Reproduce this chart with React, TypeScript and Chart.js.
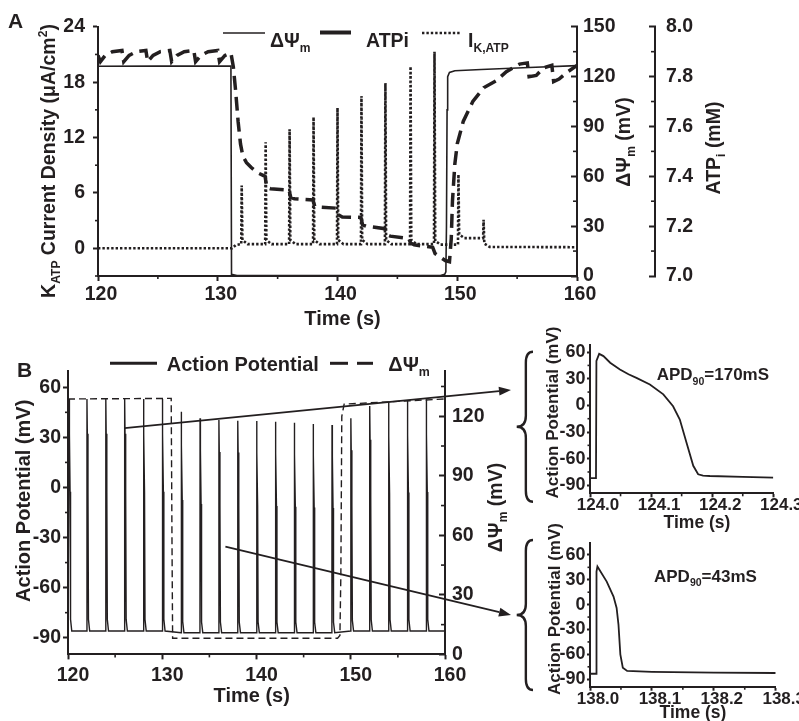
import React, { useEffect, useRef } from 'react';
import { Chart, registerables } from 'chart.js';

Chart.register(...registerables);

const FONT = '"Liberation Sans", Arial, Helvetica, sans-serif';
const INK = '#231f20';

// ================= Panel A =================
const aTimeMajor = [120, 130, 140, 150, 160];
const aTimeMinor = [125, 135, 145, 155];
const aKatpMajor = [0, 6, 12, 18, 24];
const aKatpMinor = [-3, 3, 9, 15, 21];
const aPsiMajor = [0, 30, 60, 90, 120, 150];
const aPsiMinor = [15, 45, 75, 105, 135];
const aAtpMajor = [7.0, 7.2, 7.4, 7.6, 7.8, 8.0];
const aAtpMinor = [7.1, 7.3, 7.5, 7.7, 7.9];

// ΔΨm (mV), right axis
const aPsiTime = [120, 125, 131.1, 131.15, 131.6, 140, 148.6, 148.95, 149.05, 149.1, 149.15, 149.2, 149.35, 149.8, 152, 156, 160];
const aPsiValue = [126.2, 126.3, 126.4, 1.0, 0.3, 0.2, 0.3, 1.0, 2.5, 30, 100, 120, 122.5, 123.5, 124.3, 125.5, 126.6];

// ATPi (mM)
const atpTime = [
  120.0, 120.2, 120.6, 121.2, 122.0,
  122.15, 122.6, 123.2, 124.0,
  124.15, 124.6, 125.2, 126.0,
  126.15, 126.6, 127.2, 128.0,
  128.15, 128.6, 129.2, 130.0,
  130.15, 130.6, 131.1,
  131.3, 131.5, 131.7, 131.9, 132.1, 132.4, 132.8, 133.3, 133.95,
  134.1, 134.4, 135.95,
  136.1, 136.4, 137.95,
  138.1, 138.4, 139.95,
  140.1, 140.4, 141.95,
  142.1, 142.4, 143.95,
  144.1, 144.4, 145.95,
  146.1, 146.4, 147.95,
  148.15, 148.6, 149.0, 149.35,
  149.5, 149.6, 149.8, 150.0, 150.5, 151.3, 152.2, 153.3, 154.1, 155.2, 155.85, 156.0, 156.6, 157.2, 157.9, 158.05, 158.5, 159.1, 160.0,
];
const atpValue = [
  7.885, 7.86, 7.885, 7.90, 7.905,
  7.86, 7.885, 7.90, 7.905,
  7.86, 7.885, 7.90, 7.905,
  7.86, 7.885, 7.90, 7.905,
  7.86, 7.885, 7.90, 7.905,
  7.86, 7.885, 7.895,
  7.84, 7.74, 7.62, 7.53, 7.48, 7.455, 7.435, 7.415, 7.40,
  7.355, 7.35, 7.345,
  7.315, 7.31, 7.305,
  7.28, 7.277, 7.272,
  7.245, 7.237, 7.235,
  7.205, 7.2, 7.19,
  7.166, 7.16, 7.151,
  7.132, 7.125, 7.115,
  7.09, 7.075, 7.062, 7.057,
  7.15, 7.3, 7.45, 7.53, 7.62, 7.70, 7.755, 7.785, 7.82, 7.85, 7.855, 7.80, 7.805, 7.835, 7.845, 7.78, 7.79, 7.815, 7.845,
];

// I K,ATP (µA/cm²), left axis
const ikLeadTime = [120, 131.2, 131.5, 131.9];
const ikLeadValue = [0, 0, 0.35, 0.45];
const ikSpikeTime = [132, 134, 136, 138, 140, 142, 144, 146.1, 148.1, 150.1, 152.2];
const ikSpikePeak = [6.8, 11.5, 12.9, 14.2, 15.2, 16.5, 17.9, 19.7, 21.3, 8.0, 3.1];
const ikPostValue = [0.9, 0.9, 0.9, 0.9, 0.9, 0.9, 0.9, 0.9, 0.8, 1.5, 0.5];
const ikSettleValue = [0.45, 0.45, 0.45, 0.45, 0.45, 0.45, 0.45, 0.45, 0.4, 1.1, 0.15];
const ikTailTime = [160];
const ikTailValue = [0.12];

// ================= Panel B =================
const bTimeMajor = [120, 130, 140, 150, 160];
const bTimeMinor = [125, 135, 145, 155];
const bApMajor = [-90, -60, -30, 0, 30, 60];
const bApMinor = [-75, -45, -15, 15, 45];
const bPsiMajor = [0, 30, 60, 90, 120];
const bPsiMinor = [15, 45, 75, 105, 135];

const bBeatTime = [120.1, 122, 124, 126, 128, 130, 132, 134, 136, 138, 140, 142, 144, 146, 148, 150, 152, 154, 156, 158];
const bBeatPeak = [53, 53, 53, 53, 53, 53, 45.4, 41.4, 40.4, 40, 39.8, 39.4, 38.8, 38, 37.4, 41.4, 48.8, 51.4, 52.4, 52.8];
const bBeatRest = [-86, -86, -86, -86, -86, -86, -87, -87, -87, -87, -87, -87, -87, -87, -87, -86, -86, -86, -86, -86];
const apShapeDt = [0, 0.012, 0.05, 0.12, 0.17, 0.3];
const apShapeFrac = [0, 1, 0.85, 0.6, 0.05, 0];

const bPsiTime = [120, 130.95, 131.03, 131.1, 148.6, 148.85, 148.95, 149.05, 149.3, 155, 160];
const bPsiValue = [128.7, 129.0, 60, 8.1, 8.1, 9.5, 40, 120, 126.1, 127.5, 128.7];

// arrows (time s, mV on the AP axis)
const bArrowFrom = [[126.0, 35.6], [136.7, -35.5]];
const bArrowTo = [[167.0, 58.4], [167.0, -76.4]];

// ================= Insets =================
const inApMajor = [-90, -60, -30, 0, 30, 60];
const inApMinor = [-75, -45, -15, 15, 45];
const in1TimeMajor = [124.0, 124.1, 124.2, 124.3];
const in1TimeMinor = [124.05, 124.15, 124.25];
const in2TimeMajor = [138.0, 138.1, 138.2, 138.3];
const in2TimeMinor = [138.05, 138.15, 138.25];

const in1Time = [124.0015, 124.0098, 124.0105, 124.015, 124.022, 124.033, 124.049, 124.063, 124.076, 124.098, 124.12, 124.136, 124.147, 124.158, 124.169, 124.177, 124.185, 124.196, 124.25, 124.3];
const in1Value = [-82, -82, 50, 58, 55.5, 48, 40.5, 35, 31, 23.6, 12.4, -1, -16, -42, -68, -77.6, -79, -79.5, -80.5, -81.3];

const in2Time = [138.0015, 138.0098, 138.0105, 138.012, 138.027, 138.038, 138.043, 138.046, 138.049, 138.053, 138.06, 138.1, 138.2, 138.3];
const in2Value = [-83.4, -83.4, 40, 46, 27.8, 9.8, -4, -24, -60, -76, -80, -81, -82, -82.5];

// ================= helpers =================
type Seg = { t: string; sub?: boolean; sup?: boolean };

function drawRich(ctx: any, segs: Seg[], x: number, y: number, size: number, align: 'left' | 'center', rotate = false) {
  ctx.save();
  ctx.translate(x, y);
  if (rotate) ctx.rotate(-Math.PI / 2);
  ctx.fillStyle = INK;
  ctx.textBaseline = 'alphabetic';
  ctx.textAlign = 'left';
  const parts = segs.map((s) => {
    const fs = s.sub || s.sup ? size * 0.62 : size;
    ctx.font = `bold ${fs}px ${FONT}`;
    return { ...s, fs, w: ctx.measureText(s.t).width };
  });
  const total = parts.reduce((a, p) => a + p.w, 0);
  let cx = align === 'center' ? -total / 2 : 0;
  for (const p of parts) {
    ctx.font = `bold ${p.fs}px ${FONT}`;
    const dy = p.sub ? size * 0.28 : p.sup ? -size * 0.42 : 0;
    ctx.fillText(p.t, cx, dy);
    cx += p.w;
  }
  ctx.restore();
}

function seg(ctx: any, x1: number, y1: number, x2: number, y2: number, w: number, dash: number[] = []) {
  ctx.save();
  ctx.strokeStyle = INK;
  ctx.lineWidth = w;
  ctx.setLineDash(dash);
  ctx.beginPath();
  ctx.moveTo(x1, y1);
  ctx.lineTo(x2, y2);
  ctx.stroke();
  ctx.restore();
}

function arrow(ctx: any, x1: number, y1: number, x2: number, y2: number) {
  const ang = Math.atan2(y2 - y1, x2 - x1);
  const L = 12, H = 4.5;
  const bx = x2 - L * Math.cos(ang), by = y2 - L * Math.sin(ang);
  seg(ctx, x1, y1, bx, by, 1.8);
  ctx.save();
  ctx.fillStyle = INK;
  ctx.beginPath();
  ctx.moveTo(x2, y2);
  ctx.lineTo(bx - H * Math.sin(ang), by + H * Math.cos(ang));
  ctx.lineTo(bx + H * Math.sin(ang), by - H * Math.cos(ang));
  ctx.closePath();
  ctx.fill();
  ctx.restore();
}

function brace(ctx: any, xTip: number, xEnd: number, yTop: number, yMid: number, yBot: number) {
  const xm = (xTip + xEnd) / 2 + 1;
  const r = 11;
  ctx.save();
  ctx.strokeStyle = INK;
  ctx.lineWidth = 2.4;
  ctx.beginPath();
  ctx.moveTo(xEnd, yTop);
  ctx.quadraticCurveTo(xm, yTop, xm, yTop + r);
  ctx.lineTo(xm, yMid - r);
  ctx.quadraticCurveTo(xm, yMid, xTip, yMid);
  ctx.quadraticCurveTo(xm, yMid, xm, yMid + r);
  ctx.lineTo(xm, yBot - r);
  ctx.quadraticCurveTo(xm, yBot, xEnd, yBot);
  ctx.stroke();
  ctx.restore();
}

type AxisSpec = {
  pos: 'left' | 'right' | 'bottom';
  min: number; max: number; major: number[];
  fmt: (v: number) => string;
  tl: number; pad: number; size: number; fit: number;
  weight?: number; labelOffset?: number;
};

function makeScale(a: AxisSpec) {
  const horizontal = a.pos === 'bottom';
  return {
    type: 'linear',
    position: a.pos,
    min: a.min,
    max: a.max,
    weight: a.weight ?? 0,
    afterBuildTicks: (s: any) => { s.ticks = a.major.map((v) => ({ value: v })); },
    afterFit: (s: any) => { if (horizontal) s.height = a.fit; else s.width = a.fit; },
    grid: { drawOnChartArea: false, drawTicks: true, tickLength: a.tl, tickWidth: 2, tickColor: INK, color: INK },
    border: { display: true, color: INK, width: 2 },
    ticks: {
      autoSkip: false, maxRotation: 0, minRotation: 0,
      padding: a.pad, color: INK, labelOffset: a.labelOffset ?? 0,
      font: { family: FONT, size: a.size, weight: 'bold', lineHeight: 1 },
      callback: (v: any) => a.fmt(Number(v)),
    },
  };
}

function minorPlugin(specs: { id: string; vals: number[]; len: number }[]) {
  return {
    id: 'minorTicks',
    afterDraw(chart: any) {
      const ctx = chart.ctx;
      ctx.save();
      ctx.strokeStyle = INK;
      ctx.lineWidth = 1.6;
      for (const sp of specs) {
        const s = chart.scales[sp.id];
        for (const v of sp.vals) {
          const p = s.getPixelForValue(v);
          ctx.beginPath();
          if (s.position === 'bottom') { ctx.moveTo(p, s.top); ctx.lineTo(p, s.top + sp.len); }
          else if (s.position === 'left') { ctx.moveTo(s.right, p); ctx.lineTo(s.right - sp.len, p); }
          else { ctx.moveTo(s.left, p); ctx.lineTo(s.left + sp.len, p); }
          ctx.stroke();
        }
      }
      ctx.restore();
    },
  };
}

function decor(fn: (chart: any, ctx: any) => void) {
  return { id: 'decor', afterDraw(chart: any) { fn(chart, chart.ctx); } };
}

function line(times: number[], vals: number[], opts: any) {
  return {
    data: times.map((t, i) => ({ x: t, y: vals[i] })),
    showLine: true, pointRadius: 0, borderColor: INK, backgroundColor: INK,
    fill: false, tension: 0, ...opts,
  };
}

const f0 = (v: number) => String(Math.round(v));
const f1 = (v: number) => v.toFixed(1);

const baseOptions = {
  responsive: false,
  animation: false,
  events: [],
  plugins: { legend: { display: false }, tooltip: { enabled: false } },
};

// ================= chart configs =================
function configA(): any {
  const ik: { x: number; y: number }[] = ikLeadTime.map((t, i) => ({ x: t, y: ikLeadValue[i] }));
  ikSpikeTime.forEach((t, i) => {
    const pre = i === 0 ? ikLeadValue[ikLeadValue.length - 1] : ikSettleValue[i - 1];
    ik.push({ x: t - 0.04, y: pre });
    ik.push({ x: t, y: ikSpikePeak[i] });
    ik.push({ x: t + 0.06, y: ikPostValue[i] });
    ik.push({ x: t + 0.5, y: ikSettleValue[i] });
  });
  ikTailTime.forEach((t, i) => ik.push({ x: t, y: ikTailValue[i] }));

  return {
    type: 'scatter',
    data: {
      datasets: [
        line(aPsiTime, aPsiValue, { yAxisID: 'y1', borderWidth: 1.6 }),
        line(atpTime, atpValue, { yAxisID: 'y2', borderWidth: 3.5, borderDash: [14, 7] }),
        { data: ik, showLine: true, pointRadius: 0, borderColor: INK, yAxisID: 'y', borderWidth: 2.6, borderDash: [2.4, 2], tension: 0 },
      ],
    },
    options: {
      ...baseOptions,
      layout: { padding: { top: 26, left: 0, right: 0, bottom: 0 } },
      scales: {
        x: makeScale({ pos: 'bottom', min: 120, max: 160, major: aTimeMajor, fmt: f0, tl: 5, pad: 3.5, size: 19.5, fit: 59, labelOffset: 3 }),
        y: makeScale({ pos: 'left', min: -3, max: 24, major: aKatpMajor, fmt: f0, tl: 5, pad: 8, size: 19.5, fit: 98 }),
        y1: makeScale({ pos: 'right', min: 0, max: 150, major: aPsiMajor, fmt: f0, tl: -6, pad: 12, size: 19.5, fit: 78, weight: 0 }),
        y2: makeScale({ pos: 'right', min: 7.0, max: 8.0, major: aAtpMajor, fmt: f1, tl: -6, pad: 17, size: 19.5, fit: 144, weight: 1 }),
      },
    },
    plugins: [
      minorPlugin([
        { id: 'x', vals: aTimeMinor, len: 3 },
        { id: 'y', vals: aKatpMinor, len: 3 },
        { id: 'y1', vals: aPsiMinor, len: -4 },
        { id: 'y2', vals: aAtpMinor, len: -4 },
      ]),
      decor((chart, ctx) => {
        drawRich(ctx, [{ t: 'A' }], 8, 28, 21, 'left');
        // legend
        seg(ctx, 223, 33, 265, 33, 1.5);
        drawRich(ctx, [{ t: 'ΔΨ' }, { t: 'm', sub: true }], 270, 46.5, 19.5, 'left');
        seg(ctx, 320, 32.5, 351, 32.5, 4);
        drawRich(ctx, [{ t: 'ATPi' }], 366, 46.5, 19.5, 'left');
        seg(ctx, 422, 33, 460, 33, 2.6, [2.4, 2]);
        drawRich(ctx, [{ t: 'I' }, { t: 'K,ATP', sub: true }], 468, 46.5, 19.5, 'left');
        // axis titles
        drawRich(ctx, [{ t: 'K' }, { t: 'ATP', sub: true }, { t: ' Current Density (μA/cm' }, { t: '2', sup: true }, { t: ')' }], 55, 161, 19.5, 'center', true);
        drawRich(ctx, [{ t: 'ΔΨ' }, { t: 'm', sub: true }, { t: ' (mV)' }], 630, 142, 19.5, 'center', true);
        drawRich(ctx, [{ t: 'ATP' }, { t: 'i', sub: true }, { t: ' (mM)' }], 720, 148, 19.5, 'center', true);
        drawRich(ctx, [{ t: 'Time (s)' }], 342.5, 325, 20, 'center');
      }),
    ],
  };
}

function configB(): any {
  const ap: { x: number; y: number }[] = [{ x: 120, y: bBeatRest[0] }];
  bBeatTime.forEach((t, i) => {
    const rest = bBeatRest[i];
    const peak = bBeatPeak[i];
    apShapeDt.forEach((dt, k) => ap.push({ x: t + dt, y: rest + apShapeFrac[k] * (peak - rest) }));
  });
  ap.push({ x: 160, y: bBeatRest[bBeatRest.length - 1] });

  return {
    type: 'scatter',
    data: {
      datasets: [
        { data: ap, showLine: true, pointRadius: 0, borderColor: INK, yAxisID: 'y', borderWidth: 1.4, tension: 0 },
        line(bPsiTime, bPsiValue, { yAxisID: 'y1', borderWidth: 1.4, borderDash: [7, 4] }),
      ],
    },
    options: {
      ...baseOptions,
      layout: { padding: { top: 35.6, left: 0, right: 0, bottom: 0 } },
      scales: {
        x: makeScale({ pos: 'bottom', min: 120, max: 160, major: bTimeMajor, fmt: f0, tl: 5, pad: 6, size: 19.5, fit: 66.6, labelOffset: 5 }),
        y: makeScale({ pos: 'left', min: -100, max: 70, major: bApMajor, fmt: f0, tl: 5, pad: 2, size: 19.5, fit: 68 }),
        y1: makeScale({ pos: 'right', min: 0, max: 143, major: bPsiMajor, fmt: f0, tl: -6, pad: 13, size: 19.5, fit: 75 }),
      },
    },
    plugins: [
      minorPlugin([
        { id: 'x', vals: bTimeMinor, len: 3 },
        { id: 'y', vals: bApMinor, len: 3 },
        { id: 'y1', vals: bPsiMinor, len: -4 },
      ]),
      decor((chart, ctx) => {
        drawRich(ctx, [{ t: 'B' }], 17, 42, 21, 'left');
        seg(ctx, 110, 28.3, 157, 28.3, 3);
        drawRich(ctx, [{ t: 'Action Potential' }], 166.7, 35.7, 20, 'left');
        seg(ctx, 330, 28.3, 348, 28.3, 3);
        seg(ctx, 357, 28.3, 373, 28.3, 3);
        drawRich(ctx, [{ t: 'ΔΨ' }, { t: 'm', sub: true }], 388.3, 35.7, 20, 'left');
        drawRich(ctx, [{ t: 'Action Potential (mV)' }], 30, 165.8, 20, 'center', true);
        drawRich(ctx, [{ t: 'ΔΨ' }, { t: 'm', sub: true }, { t: ' (mV)' }], 502, 172.5, 19.5, 'center', true);
        drawRich(ctx, [{ t: 'Time (s)' }], 251.7, 366.7, 20, 'center');
        const sx = chart.scales.x, sy = chart.scales.y;
        bArrowFrom.forEach((p, i) => {
          arrow(ctx, sx.getPixelForValue(p[0]), sy.getPixelForValue(p[1]),
            sx.getPixelForValue(bArrowTo[i][0]), sy.getPixelForValue(bArrowTo[i][1]));
        });
      }),
    ],
  };
}

function configInset(times: number[], vals: number[], tMajor: number[], tMinor: number[], tMin: number, tMax: number,
  yMin: number, yMax: number, padTop: number, padRight: number, xFit: number, apd: string,
  dec: { title: [number, number]; time: [number, number]; apd: [number, number]; brace: number[] }): any {
  return {
    type: 'scatter',
    data: { datasets: [line(times, vals, { borderWidth: 1.8 })] },
    options: {
      ...baseOptions,
      layout: { padding: { top: padTop, left: 0, right: padRight, bottom: 0 } },
      scales: {
        x: makeScale({ pos: 'bottom', min: tMin, max: tMax, major: tMajor, fmt: f1, tl: 4, pad: 0, size: 17, fit: xFit, labelOffset: 8 }),
        y: makeScale({ pos: 'left', min: yMin, max: yMax, major: inApMajor, fmt: f0, tl: 3, pad: 1.5, size: 18, fit: 80 }),
      },
    },
    plugins: [
      minorPlugin([
        { id: 'x', vals: tMinor, len: 3 },
        { id: 'y', vals: inApMinor, len: 2.5 },
      ]),
      decor((chart, ctx) => {
        drawRich(ctx, [{ t: 'Action Potential (mV)' }], dec.title[0], dec.title[1], 17, 'center', true);
        drawRich(ctx, [{ t: 'Time (s)' }], dec.time[0], dec.time[1], 17.5, 'center');
        drawRich(ctx, [{ t: 'APD' }, { t: '90', sub: true }, { t: apd }], dec.apd[0], dec.apd[1], 17, 'left');
        const b = dec.brace;
        brace(ctx, b[0], b[1], b[2], b[3], b[4]);
      }),
    ],
  };
}

export default function App() {
  const refA = useRef<HTMLCanvasElement>(null);
  const refB = useRef<HTMLCanvasElement>(null);
  const refC = useRef<HTMLCanvasElement>(null);
  const refD = useRef<HTMLCanvasElement>(null);

  useEffect(() => {
    Chart.defaults.font.family = FONT;
    Chart.defaults.color = INK;
    const charts: any[] = [];
    charts.push(new Chart(refA.current as any, configA()));
    charts.push(new Chart(refB.current as any, configB()));
    charts.push(new Chart(refC.current as any, configInset(in1Time, in1Value, in1TimeMajor, in1TimeMinor, 124.0, 124.3,
      -99, 68, 25, 25.7, 41.7, '=170mS',
      { title: [48, 92.5], time: [187, 208], apd: [146.7, 60], brace: [6.7, 23, 31.7, 106.7, 181.7] })));
    charts.push(new Chart(refD.current as any, configInset(in2Time, in2Value, in2TimeMajor, in2TimeMinor, 138.0, 138.3,
      -99, 74, 25.3, 23.3, 34.3, '=43mS',
      { title: [50, 91], time: [183, 200], apd: [144, 63.7], brace: [6.7, 23, 22, 97, 172] })));
    return () => charts.forEach((c) => c.destroy());
  }, []);

  const cv = (l: number, t: number, w: number, h: number): any => ({ position: 'absolute', left: l, top: t, width: w, height: h });

  return (
    <div style={{ position: 'absolute', left: 0, top: 0, width: 799, height: 721, background: '#fff', overflow: 'hidden' }}>
      <canvas ref={refA} width={799} height={335} style={cv(0, 0, 799, 335)} />
      <canvas ref={refB} width={520} height={386} style={cv(0, 335, 520, 386)} />
      <canvas ref={refC} width={289} height={215} style={cv(510, 320, 289, 215)} />
      <canvas ref={refD} width={289} height={203} style={cv(510, 518, 289, 203)} />
    </div>
  );
}
